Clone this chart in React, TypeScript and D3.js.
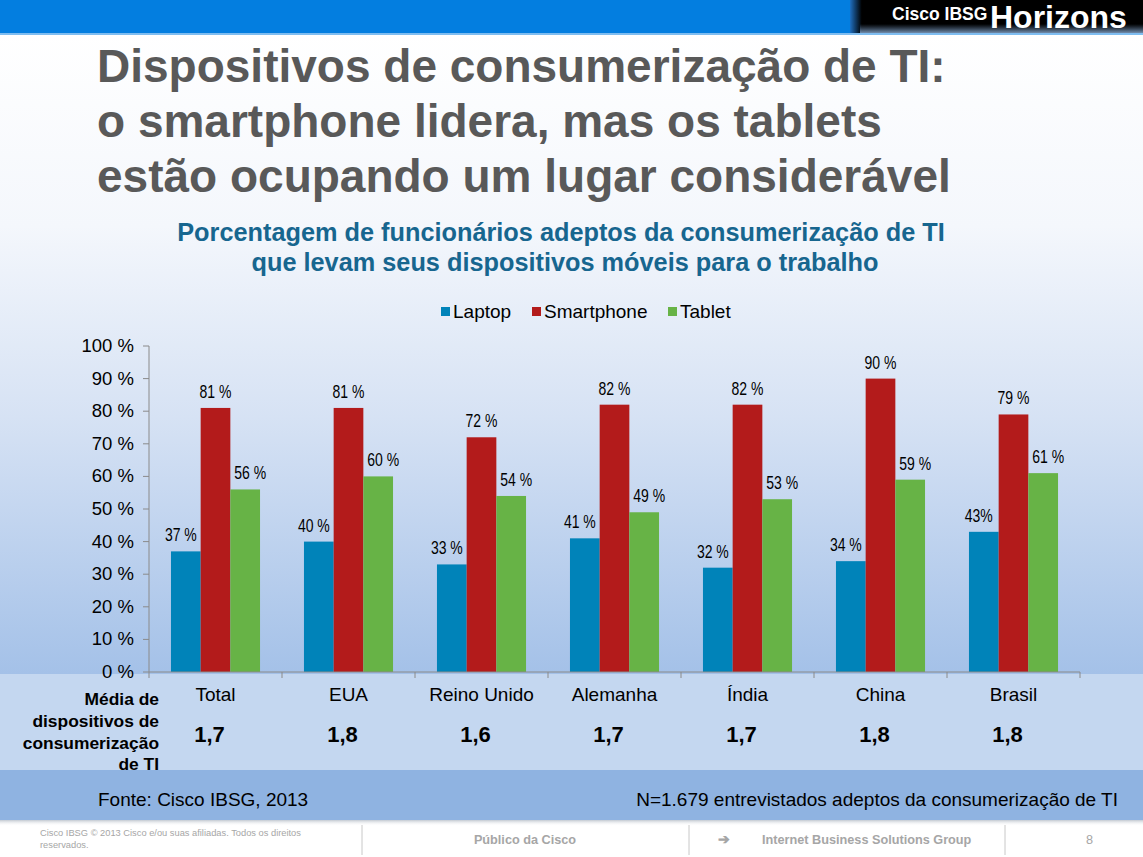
import React from "react";
import * as d3 from "d3";

const categories = ["Total", "EUA", "Reino Unido", "Alemanha", "Índia", "China", "Brasil"];
const seriesNames = ["Laptop", "Smartphone", "Tablet"];
const laptop = [37, 40, 33, 41, 32, 34, 43];
const smartphone = [81, 81, 72, 82, 82, 90, 79];
const tablet = [56, 60, 54, 49, 53, 59, 61];
const laptopLabels = ["37 %", "40 %", "33 %", "41 %", "32 %", "34 %", "43%"];
const smartphoneLabels = ["81 %", "81 %", "72 %", "82 %", "82 %", "90 %", "79 %"];
const tabletLabels = ["56 %", "60 %", "54 %", "49 %", "53 %", "59 %", "61 %"];
const averages = ["1,7", "1,8", "1,6", "1,7", "1,7", "1,8", "1,8"];
const yTicks = [0, 10, 20, 30, 40, 50, 60, 70, 80, 90, 100];
const colors = ["#0083b9", "#b31b1b", "#67b346"];

const W = 1143, H = 857;
const FONT = "'Liberation Sans', Arial, sans-serif";

export default function App() {
  const x0 = d3.scaleBand<string>().domain(categories).range([149, 1080]).paddingInner(0).paddingOuter(0);
  const x1 = d3.scaleBand<string>().domain(seriesNames).range([0, x0.bandwidth()]).paddingInner(0).paddingOuter(0.74);
  const y = d3.scaleLinear().domain([0, 100]).range([672, 346]);
  const data = [laptop, smartphone, tablet];
  const labels = [laptopLabels, smartphoneLabels, tabletLabels];
  const labelShift = [-5, 0, 5];

  return (
    <svg width={W} height={H} style={{ position: "absolute", left: 0, top: 0, fontFamily: FONT }}>
      <defs>
        <linearGradient id="bg" x1="0" y1="0" x2="0" y2="1">
          <stop offset="0" stopColor="#ffffff" />
          <stop offset="0.3" stopColor="#f4f7fc" />
          <stop offset="0.6" stopColor="#d6e2f4" />
          <stop offset="1" stopColor="#a4c1e8" />
        </linearGradient>
        <linearGradient id="hdr" x1="0" y1="0" x2="1" y2="0">
          <stop offset="0" stopColor="#1f6fc0" />
          <stop offset="0.04" stopColor="#000000" />
          <stop offset="1" stopColor="#000000" />
        </linearGradient>
        <linearGradient id="hdrglow" x1="0" y1="0" x2="0" y2="1">
          <stop offset="0" stopColor="#6b8fb8" stopOpacity="0" />
          <stop offset="1" stopColor="#8fb0d8" stopOpacity="0.8" />
        </linearGradient>
        <linearGradient id="shadow" x1="0" y1="0" x2="0" y2="1">
          <stop offset="0" stopColor="#9aa5b3" stopOpacity="0.6" />
          <stop offset="1" stopColor="#ffffff" stopOpacity="0" />
        </linearGradient>
      </defs>
      <rect x={0} y={0} width={W} height={H} fill="#ffffff" />
      <rect x={0} y={34} width={W} height={640} fill="url(#bg)" />
      {/* Header */}
      <rect x={0} y={0} width={W} height={33} fill="#037ee0" />
      <rect x={0} y={33} width={W} height={2} fill="#7fbdf0" />
      <rect x={850} y={0} width={293} height={33} fill="url(#hdr)" />
      <rect x={860} y={24} width={283} height={9} fill="url(#hdrglow)" />
      <text x={892} y={20} fill="#ffffff" fontSize={17.5} fontWeight="bold">Cisco IBSG</text>
      <text x={990} y={28} fill="#ffffff" fontSize={32} fontWeight="bold">Horizons</text>

      {/* Title */}
      <g fill="#595959" fontSize={46} fontWeight="bold">
        <text x={97} y={82}>Dispositivos de consumerização de TI:</text>
        <text x={97} y={137}>o smartphone lidera, mas os tablets</text>
        <text x={97} y={192}>estão ocupando um lugar considerável</text>
      </g>
      <g fill="#17668f" fontSize={25.3} fontWeight="bold" textAnchor="middle">
        <text x={561} y={241}>Porcentagem de funcionários adeptos da consumerização de TI</text>
        <text x={565} y={271}>que levam seus dispositivos móveis para o trabalho</text>
      </g>

      {/* Legend */}
      {seriesNames.map((s, i) => {
        const lx = [441, 532, 668][i];
        return (
          <g key={s}>
            <rect x={lx} y={307} width={9} height={9} fill={colors[i]} />
            <text x={lx + 12} y={318} fontSize={19} fill="#000">{s}</text>
          </g>
        );
      })}

      {/* Lower bands */}
      <rect x={0} y={674} width={W} height={96} fill="#c4d7f0" />
      <rect x={0} y={770} width={W} height={50} fill="#8fb3e1" />
      <rect x={0} y={820} width={W} height={6} fill="url(#shadow)" />

      {/* Y axis */}
      <line x1={149} x2={149} y1={346} y2={672} stroke="#8a8a8a" />
      {yTicks.map((t) => (
        <g key={t}>
          <line x1={143} x2={149} y1={y(t)} y2={y(t)} stroke="#8a8a8a" />
          <text x={134} y={y(t) + 6} textAnchor="end" fontSize={18.5} fill="#000">{t} %</text>
        </g>
      ))}

      {/* Bars */}
      {categories.map((c, ci) => (
        <g key={c}>
          {seriesNames.map((s, si) => {
            const bx = (x0(c) as number) + (x1(s) as number);
            const v = data[si][ci];
            const lx = bx + x1.bandwidth() / 2 + labelShift[si];
            const ly = y(v) - 10;
            return (
              <g key={s}>
                <rect x={bx} y={y(v)} width={x1.bandwidth()} height={672 - y(v)} fill={colors[si]} />
                <text transform={`translate(${lx},${ly}) scale(0.8,1)`} textAnchor="middle" fontSize={17.5} fill="#000">
                  {labels[si][ci]}
                </text>
              </g>
            );
          })}
        </g>
      ))}

      {/* X axis */}
      <line x1={149} x2={1080} y1={672} y2={672} stroke="#8a8a8a" />
      {[...categories.map((c) => x0(c) as number), 1080].map((tx, i) => (
        <line key={i} x1={tx} x2={tx} y1={672} y2={678} stroke="#8a8a8a" />
      ))}

      {/* Category labels & averages */}
      {categories.map((c, ci) => {
        const cx = (x0(c) as number) + x0.bandwidth() / 2;
        return (
          <g key={c}>
            <text x={cx} y={701} textAnchor="middle" fontSize={19} fill="#000">{c}</text>
            <text x={cx - 6} y={742} textAnchor="middle" fontSize={22} fontWeight="bold" fill="#000">{averages[ci]}</text>
          </g>
        );
      })}
      <g fontSize={17.4} fontWeight="bold" fill="#000" textAnchor="end">
        <text x={159} y={705}>Média de</text>
        <text x={159} y={727}>dispositivos de</text>
        <text x={159} y={749}>consumerização</text>
        <text x={159} y={770}>de TI</text>
      </g>

      {/* Source */}
      <text x={98} y={806} fontSize={19} fill="#000">Fonte: Cisco IBSG, 2013</text>
      <text x={1118} y={806} fontSize={19} fill="#000" textAnchor="end">N=1.679 entrevistados adeptos da consumerização de TI</text>

      {/* Footer */}
      <g fill="#a6a6a6">
        <text x={40} y={836} fontSize={9.3}>Cisco IBSG © 2013 Cisco e/ou suas afiliadas. Todos os direitos</text>
        <text x={40} y={848} fontSize={9.3}>reservados.</text>
        <text x={525} y={844} fontSize={12.7} fontWeight="bold" textAnchor="middle">Público da Cisco</text>
        <text x={718} y={844} fontSize={14} fontWeight="bold">➔</text>
        <text x={762} y={844} fontSize={12.7} fontWeight="bold">Internet Business Solutions Group</text>
        <text x={1086} y={844} fontSize={12.7}>8</text>
      </g>
      {[362, 689, 1005].map((lx) => (
        <line key={lx} x1={lx} x2={lx} y1={825} y2={855} stroke="#c8c8c8" />
      ))}
    </svg>
  );
}
